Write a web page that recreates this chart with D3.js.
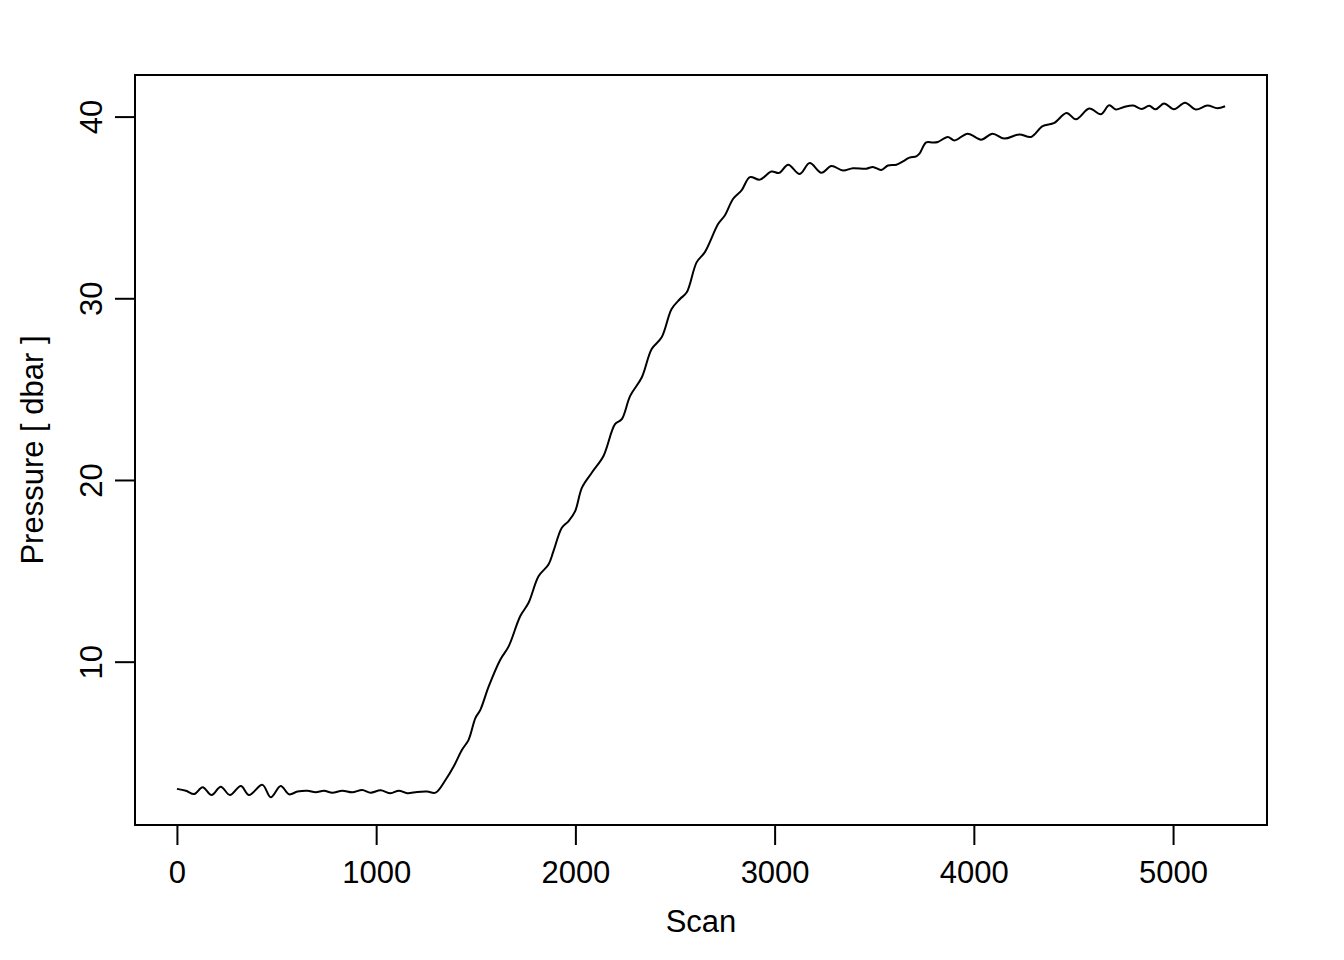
<!DOCTYPE html>
<html>
<head>
<meta charset="utf-8">
<script src="https://cdn.jsdelivr.net/npm/d3@7"></script>
<style>
  body { margin: 0; background: #fff; }
  svg { display: block; font-family: "Liberation Sans", Arial, sans-serif; }
</style>
</head>
<body>
<svg id="chart"></svg>
<script>
// scan index and pressure (peaks / troughs)
const scan = [
    0, 45, 87, 129, 174, 220, 266, 321, 362, 429, 471, 521, 563, 605, 655, 696,
    738, 780, 830, 880, 930, 972, 1022, 1072, 1114, 1156, 1206, 1256, 1298,
    1348, 1389, 1431, 1464, 1498, 1523, 1565, 1623, 1665, 1723, 1765, 1815, 1865,
    1890, 1932, 1966, 1999, 2033, 2083, 2141, 2199, 2233, 2275, 2333, 2383, 2433,
    2483, 2525, 2559, 2609, 2650, 2717, 2750, 2792, 2834, 2876, 2926, 2984, 3023,
    3068, 3126, 3176, 3235, 3285, 3343, 3393, 3460, 3493, 3535, 3569, 3611, 3644,
    3677, 3711, 3727, 3761, 3794, 3819, 3869, 3903, 3969, 4036, 4094, 4153, 4228,
    4287, 4345, 4404, 4465, 4513, 4579, 4638, 4679, 4713, 4754, 4800, 4843, 4880,
    4913, 4955, 5005, 5060, 5114, 5172, 5222, 5261
];
const pressure = [
    3.00, 2.90, 2.72, 3.09, 2.66, 3.12, 2.66, 3.16, 2.66, 3.22, 2.54, 3.16, 2.70, 2.85, 2.90, 2.81,
    2.89, 2.79, 2.90, 2.81, 2.94, 2.79, 2.92, 2.76, 2.90, 2.76, 2.83, 2.85, 2.79,
    3.49, 4.23, 5.15, 5.70, 6.89, 7.35, 8.64, 10.11, 10.84, 12.50, 13.24, 14.70, 15.35,
    16.08, 17.37, 17.74, 18.29, 19.58, 20.41, 21.32, 23.07, 23.35, 24.63, 25.64, 27.21, 27.85,
    29.41, 29.96, 30.33, 31.99, 32.54, 34.10, 34.56, 35.48, 35.94, 36.67, 36.53, 36.98, 36.90,
    37.35, 36.84, 37.44, 36.91, 37.28, 37.03, 37.16, 37.13, 37.23, 37.06, 37.31, 37.35, 37.53,
    37.74, 37.81, 37.96, 38.58, 38.57, 38.60, 38.88, 38.69, 39.06, 38.73, 39.06, 38.79, 39.02,
    38.88, 39.47, 39.65, 40.20, 39.85, 40.44, 40.13, 40.62, 40.39, 40.53, 40.61, 40.42, 40.59,
    40.40, 40.72, 40.40, 40.76, 40.39, 40.61, 40.46, 40.57
];
const xTicks = [0, 1000, 2000, 3000, 4000, 5000];
const yTicks = [10, 20, 30, 40];

const width = 1344;
const height = 960;
const margin = { top: 75, right: 77, bottom: 135, left: 135 };

const svg = d3.select("#chart").attr("width", width).attr("height", height);

// R style: data range padded by 4% on each side
function pad(ext) {
    const d = (ext[1] - ext[0]) * 0.04;
    return [ext[0] - d, ext[1] + d];
}

const x = d3.scaleLinear()
    .domain(pad(d3.extent(scan)))
    .range([margin.left, width - margin.right]);

const y = d3.scaleLinear()
    .domain(pad(d3.extent(pressure)))
    .range([height - margin.bottom, margin.top]);

const data = scan.map((s, i) => ({ s, p: pressure[i] }));

const line = d3.line()
    .x(d => x(d.s))
    .y(d => y(d.p))
    .curve(d3.curveCatmullRom.alpha(0.5));

svg.append("path")
    .datum(data)
    .attr("fill", "none")
    .attr("stroke", "#000")
    .attr("stroke-width", 2)
    .attr("d", line);

// box
svg.append("rect")
    .attr("x", margin.left)
    .attr("y", margin.top)
    .attr("width", width - margin.left - margin.right)
    .attr("height", height - margin.top - margin.bottom)
    .attr("fill", "none")
    .attr("stroke", "#000")
    .attr("stroke-width", 2);

// bottom axis
const xAxis = svg.append("g")
    .attr("transform", `translate(0, ${height - margin.bottom})`)
    .call(d3.axisBottom(x).tickValues(xTicks).tickSize(20).tickPadding(15).tickFormat(d3.format("d")));
xAxis.select(".domain")
    .attr("d", `M${x(xTicks[0])},0H${x(xTicks[xTicks.length - 1])}`);

// left axis, labels turned like R's las=0
const yAxis = svg.append("g")
    .attr("transform", `translate(${margin.left}, 0)`)
    .call(d3.axisLeft(y).tickValues(yTicks).tickSize(20).tickFormat(d3.format("d")));
yAxis.select(".domain")
    .attr("d", `M0,${y(yTicks[0])}V${y(yTicks[yTicks.length - 1])}`);
yAxis.selectAll(".tick text")
    .attr("x", null).attr("dy", null)
    .attr("text-anchor", "middle")
    .attr("transform", "translate(-33, 0) rotate(-90)");

svg.selectAll(".tick line, .domain").attr("stroke", "#000").attr("stroke-width", 2);
svg.selectAll(".tick text")
    .attr("fill", "#000")
    .attr("font-size", "31px")
    .attr("font-family", "Liberation Sans, Arial, sans-serif");
xAxis.selectAll(".tick text").attr("dy", null).attr("y", 58);

svg.append("text")
    .attr("x", (margin.left + width - margin.right) / 2)
    .attr("y", 932)
    .attr("text-anchor", "middle")
    .attr("font-size", "31px")
    .text("Scan");

svg.append("text")
    .attr("transform", `translate(43, ${(margin.top + height - margin.bottom) / 2}) rotate(-90)`)
    .attr("text-anchor", "middle")
    .attr("font-size", "31px")
    .text("Pressure [ dbar ]");
</script>
</body>
</html>
